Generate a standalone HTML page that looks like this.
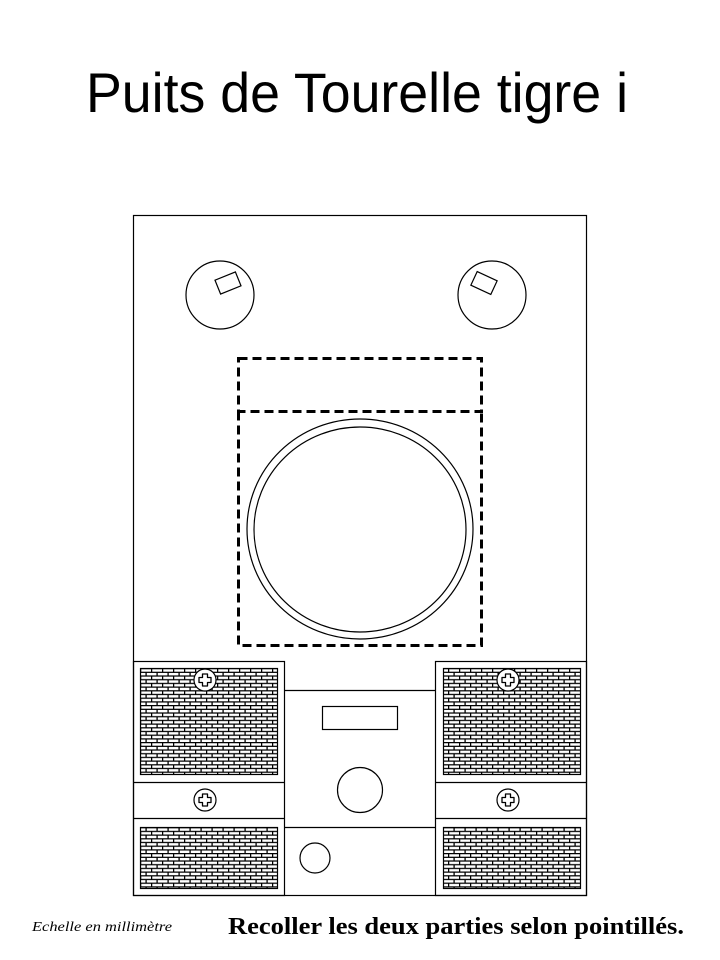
<!DOCTYPE html>
<html><head><meta charset="utf-8"><style>html,body{margin:0;padding:0;background:#fff;}svg{display:block}</style></head>
<body>
<svg width="720" height="960" viewBox="0 0 720 960" xmlns="http://www.w3.org/2000/svg">
<defs>
<pattern id="brick" x="140" y="668" width="11" height="7.4" patternUnits="userSpaceOnUse">
<rect width="11" height="7.4" fill="#fff"/>
<path d="M0 0.6H11M0 4.3H11M0.6 0.6V4.3M6.1 4.3V7.4" stroke="#000" stroke-width="1.3" fill="none"/>
</pattern>
<g id="screw">
<circle r="11" fill="#fff" stroke="#000" stroke-width="1.2"/>
<path d="M-2.5 -6H2.5V-2.5H6V2.5H2.5V6H-2.5V2.5H-6V-2.5H-2.5Z" fill="#fff" stroke="#000" stroke-width="1.3" stroke-linejoin="round"/>
</g>
</defs>
<text x="86" y="112" font-family="Liberation Sans, sans-serif" font-size="56" textLength="542" lengthAdjust="spacingAndGlyphs">Puits de Tourelle tigre i</text>
<g fill="none" stroke="#000" stroke-width="1.2">
<rect x="133.5" y="215.5" width="453" height="680"/>
<circle cx="220" cy="295" r="34"/>
<circle cx="492" cy="295" r="34"/>
<rect x="-11" y="-7.5" width="22" height="15" transform="translate(228 283) rotate(-22)"/>
<rect x="-11" y="-7.5" width="22" height="15" transform="translate(484 283) rotate(25)"/>
<ellipse cx="360" cy="529" rx="113" ry="110"/>
<ellipse cx="360" cy="529.5" rx="106" ry="102.5"/>
<rect x="133.5" y="661.5" width="151" height="234"/>
<line x1="133" y1="782.5" x2="285" y2="782.5"/>
<line x1="133" y1="818.5" x2="285" y2="818.5"/>
<rect x="435.5" y="661.5" width="151" height="234"/>
<line x1="435" y1="782.5" x2="587" y2="782.5"/>
<line x1="435" y1="818.5" x2="587" y2="818.5"/>
<line x1="285" y1="690.5" x2="435" y2="690.5"/>
<line x1="285" y1="827.5" x2="435" y2="827.5"/>
<rect x="322.5" y="706.5" width="75" height="23"/>
<circle cx="360" cy="790" r="22.5"/>
<circle cx="315" cy="858" r="15"/>
</g>
<g stroke="#000" stroke-width="3" fill="none" stroke-dasharray="9,5">
<rect x="238.5" y="358.5" width="243" height="53"/>
<path d="M238.5 411.5V645.5H481.5V411.5"/>
</g>
<g stroke="#000" stroke-width="1.2">
<rect x="140.5" y="668.5" width="137" height="106" fill="url(#brick)"/>
<rect x="140.5" y="827.5" width="137" height="61" fill="url(#brick)"/>
<rect x="443.5" y="668.5" width="137" height="106" fill="url(#brick)"/>
<rect x="443.5" y="827.5" width="137" height="61" fill="url(#brick)"/>
</g>
<use href="#screw" x="205" y="680"/>
<use href="#screw" x="205" y="800"/>
<use href="#screw" x="508" y="680"/>
<use href="#screw" x="508" y="800"/>
<text x="32" y="931" font-family="Liberation Serif, serif" font-style="italic" font-size="14" textLength="140" lengthAdjust="spacingAndGlyphs">Echelle en millimètre</text>
<text x="228" y="934" font-family="Liberation Serif, serif" font-weight="bold" font-size="24" textLength="456" lengthAdjust="spacingAndGlyphs">Recoller les deux parties selon pointillés.</text>
</svg>
</body></html>
